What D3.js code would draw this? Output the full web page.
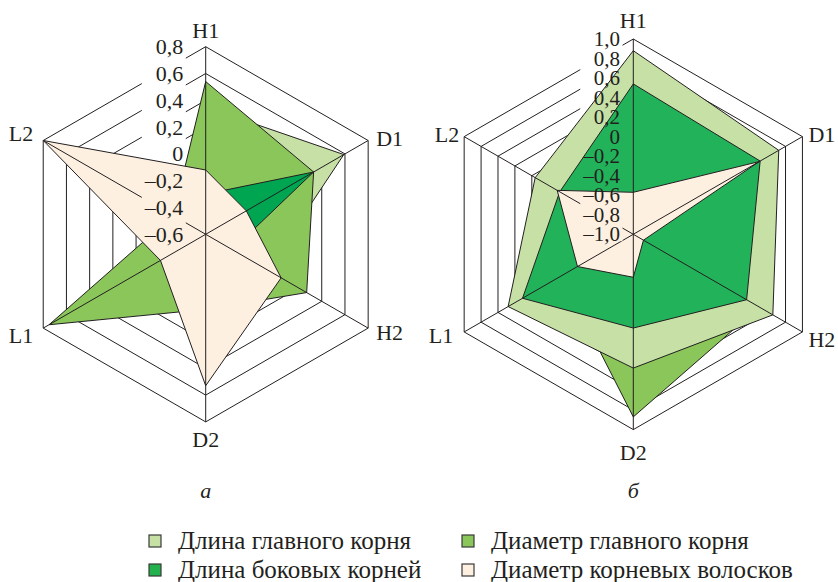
<!DOCTYPE html>
<html>
<head>
<meta charset="utf-8">
<script src="https://cdn.jsdelivr.net/npm/d3@7"></script>
<style>
  html, body { margin: 0; padding: 0; background: #fff; }
  svg { display: block; font-family: "Liberation Serif", "Times New Roman", serif; }
</style>
</head>
<body>
<svg id="chart" width="838" height="582"></svg>
<script>
// Radar axes, clockwise from the top
const axes = ["H1", "D1", "H2", "D2", "L1", "L2"];

const seriesNames = [
  "Длина главного корня",
  "Диаметр главного корня",
  "Длина боковых корней",
  "Диаметр корневых волосков"
];

// Panel а: axis runs from −0,6 (centre) to 0,8 (outer ring)
const ticksA = [-0.6, -0.4, -0.2, 0, 0.2, 0.4, 0.6, 0.8];
const lengthMainA = [0.35, 0.59, -0.07, -0.10, 0.20, -0.35];
const diamMainA   = [0.54, 0.33, 0.27, -0.04, 0.75, -0.32];
const lengthLatA  = [-0.30, 0.33, -0.37, -0.30, -0.40, -0.30];
const diamHairA   = [-0.12, -0.25, 0.05, 0.53, -0.21, 0.80];

// Panel б: axis runs from −1,0 (centre) to 1,0 (outer ring)
const ticksB = [-1.0, -0.8, -0.6, -0.4, -0.2, 0, 0.2, 0.4, 0.6, 0.8, 1.0];
const lengthMainB = [0.88, 0.72, 0.65, 0.37, 0.48, 0.16];
const diamMainB   = [0.60, 0.50, 0.49, 0.87, -0.15, -0.20];
const lengthLatB  = [0.54, 0.50, 0.34, -0.04, 0.31, -0.13];
const diamHairB   = [-0.57, 0.49, -0.88, -0.56, -0.34, -0.10];

const INK = "#231f20";
const legendColors = ["#c6e0a6", "#8bc65b", "#22b14c", "#fdf0e1"];

const ru = d3.formatLocale({ decimal: ",", thousands: " ", grouping: [3], currency: ["", ""], minus: "\u2013" });
const fmt1 = ru.format(".1f");
const tickText = v => (Math.abs(v) < 1e-9 ? "0" : fmt1(v));

const svg = d3.select("#chart");
svg.append("rect").attr("width", 838).attr("height", 582).attr("fill", "#fff");
const defs = svg.append("defs");

const panels = [
  {
    key: "a", title: "а", cx: 205.7, cy: 234.3, R: 187.6, ticks: ticksA,
    labelGap: 22.4, tickFont: 22,
    // drawing order, back to front: [values, series index, fill]
    layers: [
      [lengthMainA, 0, "#c6e0a6"],
      [diamMainA, 1, "#8bc65b"],
      [lengthLatA, 2, "#00a551"],
      [diamHairA, 3, "#fdf0e1"]
    ],
    axisOffsets: { H1: [0, -9], D1: [8, 5], H2: [8, 12], D2: [0, 25], L1: [-10, 15], L2: [-10, 0] }
  },
  {
    key: "b", title: "б", cx: 633.3, cy: 234.3, R: 195.3, ticks: ticksB,
    labelGap: 13.3, tickFont: 21,
    layers: [
      [diamMainB, 1, "#8bc65b"],
      [lengthMainB, 0, "#c6e0a6"],
      [lengthLatB, 2, "#22b25a"],
      [diamHairB, 3, "#fdf0e1"]
    ],
    axisOffsets: { H1: [0, -11], D1: [6, 5], H2: [6, 15], D2: [0, 30], L1: [-11, 11], L2: [-5, 5] }
  }
];

function drawPanel(p) {
  const r = d3.scaleLinear().domain(d3.extent(p.ticks)).range([0, p.R]);
  const ang = d3.scalePoint().domain(axes).range([0, 2 * Math.PI * (axes.length - 1) / axes.length]);
  const radial = d3.lineRadial()
    .angle((d, i) => ang(axes[i]))
    .radius(d => r(d))
    .curve(d3.curveLinearClosed);
  const vertex = (name, v) => {
    const a = ang(name);
    return [p.cx + r(v) * Math.sin(a), p.cy - r(v) * Math.cos(a)];
  };

  const g = svg.append("g").attr("class", "panel-" + p.key);

  // mask that knocks grid lines out behind the tick labels
  const mask = defs.append("mask").attr("id", "grid-mask-" + p.key)
    .attr("maskUnits", "userSpaceOnUse").attr("x", 0).attr("y", 0)
    .attr("width", 838).attr("height", 582);
  mask.append("rect").attr("width", 838).attr("height", 582).attr("fill", "#fff");
  const hole = mask.append("rect").attr("fill", "#000");

  // concentric hexagonal rings (the centre value gets none)
  const rings = g.append("g").attr("mask", `url(#grid-mask-${p.key})`)
    .append("g").attr("transform", `translate(${p.cx},${p.cy})`);
  rings.selectAll("path")
    .data(p.ticks.filter(t => r(t) > 0))
    .join("path")
    .attr("d", t => radial(axes.map(() => t)))
    .attr("fill", "none")
    .attr("stroke", INK)
    .attr("stroke-width", 1);

  // series polygons
  const polys = g.append("g").attr("transform", `translate(${p.cx},${p.cy})`);
  polys.selectAll("path")
    .data(p.layers)
    .join("path")
    .attr("d", d => radial(d[0]))
    .attr("fill", d => d[2])
    .attr("stroke", INK)
    .attr("stroke-width", 1)
    .attr("stroke-linejoin", "miter");

  // spokes over the polygons
  const spokes = g.append("g").attr("mask", `url(#grid-mask-${p.key})`);
  const outer = d3.max(p.ticks);
  spokes.selectAll("line")
    .data(axes)
    .join("line")
    .attr("x1", p.cx).attr("y1", p.cy)
    .attr("x2", d => vertex(d, outer)[0])
    .attr("y2", d => vertex(d, outer)[1])
    .attr("stroke", INK)
    .attr("stroke-width", 1);

  // tick labels along the H1 spoke
  const fs = p.tickFont;
  const labelRight = p.cx - p.labelGap;
  const tl = g.append("g")
    .attr("font-size", fs)
    .attr("fill", INK)
    .attr("text-anchor", "end");
  tl.selectAll("text")
    .data(p.ticks)
    .join("text")
    .attr("x", labelRight)
    .attr("y", t => p.cy - r(t) + fs * 0.34)
    .text(tickText);

  let maxW = 0;
  tl.selectAll("text").each(function () { maxW = Math.max(maxW, this.getComputedTextLength()); });
  const step = r(p.ticks[1]) - r(p.ticks[0]);
  hole.attr("x", labelRight - maxW - 3)
    .attr("width", maxW + 5.5)
    .attr("y", p.cy - p.R - step / 2)
    .attr("height", p.R + step * 0.85);

  // axis names at the outer vertices
  g.append("g")
    .attr("font-size", 22)
    .attr("fill", INK)
    .selectAll("text")
    .data(axes)
    .join("text")
    .attr("x", d => vertex(d, outer)[0] + p.axisOffsets[d][0])
    .attr("y", d => vertex(d, outer)[1] + p.axisOffsets[d][1])
    .attr("text-anchor", d => {
      const s = Math.sin(ang(d));
      return Math.abs(s) < 1e-6 ? "middle" : (s > 0 ? "start" : "end");
    })
    .text(d => d);

  // panel letter
  g.append("text")
    .attr("x", p.cx)
    .attr("y", 498)
    .attr("text-anchor", "middle")
    .attr("font-size", 22)
    .attr("font-style", "italic")
    .attr("fill", INK)
    .text(p.title);
}

panels.forEach(drawPanel);

// legend, two columns by two rows
const legendCols = [149, 462];
const legendRows = [535, 564];
const legend = svg.append("g").attr("font-size", 25).attr("fill", INK);
const legendItems = legend.selectAll("g")
  .data(seriesNames)
  .join("g")
  .attr("transform", (d, i) => `translate(${legendCols[i % 2]},${legendRows[Math.floor(i / 2)]})`);
legendItems.append("rect")
  .attr("width", 12).attr("height", 12)
  .attr("fill", (d, i) => legendColors[i])
  .attr("stroke", "#3a3a3a")
  .attr("stroke-width", 1.2);
legendItems.append("text")
  .attr("x", 29)
  .attr("y", 14)
  .text(d => d);
</script>
</body>
</html>
